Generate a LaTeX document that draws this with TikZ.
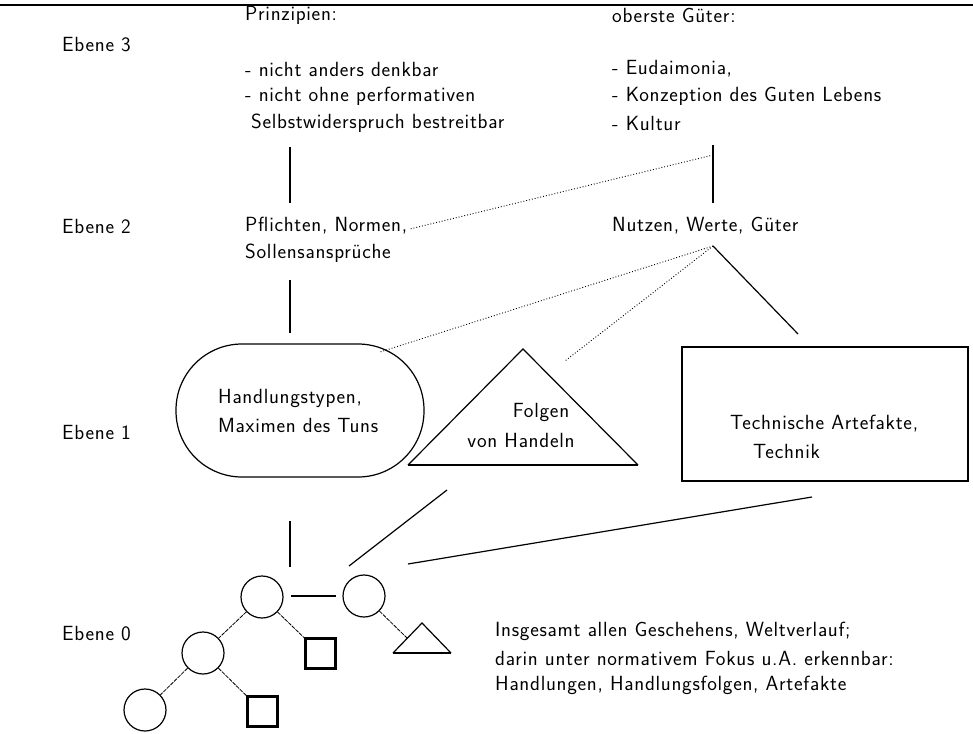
\documentclass[tikz,border=0pt]{standalone}
\usepackage{fontspec}
\setsansfont{Latin Modern Sans}[LetterSpace=3.5]
\usetikzlibrary{shapes.geometric}
\begin{document}
\begin{tikzpicture}[x=1pt,y=-1pt,
  txt/.style={anchor=west,inner sep=0pt,font=\sffamily\fontsize{20.5}{27}\selectfont},
  ctxt/.style={anchor=center,inner sep=0pt,font=\sffamily\fontsize{20.5}{27}\selectfont},
  thickline/.style={line width=2.2pt},
  thinline/.style={line width=1.2pt},
  dotline/.style={line width=0.9pt,dotted},
  treeline/.style={line width=0.8pt,dash pattern=on 4pt off 1pt},
  circ/.style={circle,draw,line width=1.2pt,minimum size=42pt,inner sep=0pt},
  sq/.style={rectangle,draw,line width=2.2pt,minimum size=30pt,inner sep=0pt}]
\useasboundingbox (0,0) rectangle (973,733);
\coordinate (tl) at (0,5); \coordinate (tr) at (973,5);
\draw[line width=2pt] (tl) -- (tr);
% labels
\node[txt] (e3) at (62,45) {Ebene 3};
\node[txt] (e2) at (62,226) {Ebene 2};
\node[txt] (e1) at (62,432) {Ebene 1};
\node[txt] (e0) at (62,634) {Ebene 0};
% level 3
\node[txt] (p0) at (245,15) {Prinzipien:};
\node[txt] (p1) at (245,69) {- nicht anders denkbar};
\node[txt] (p2) at (245,96) {- nicht ohne performativen};
\node[txt] (p3) at (251,123) {Selbstwiderspruch bestreitbar};
\node[txt] (g0) at (612,15) {oberste Güter:};
\node[txt] (g1) at (612,69) {- Eudaimonia,};
\node[txt] (g2) at (612,96) {- Konzeption des Guten Lebens};
\node[txt] (g3) at (612,123) {- Kultur};
% level 2
\node[txt] (n1) at (245,226) {Pflichten, Normen,};
\node[txt] (n2) at (245,253) {Sollensansprüche};
\node[txt] (w1) at (612,226) {Nutzen, Werte, Güter};
% vertical links
\coordinate (a1) at (290,147); \coordinate (a2) at (290,203);
\coordinate (b1) at (713,145); \coordinate (b2) at (713,203);
\coordinate (a3) at (290,280); \coordinate (a4) at (290,333);
\coordinate (a5) at (290,521); \coordinate (a6) at (290,567);
\draw[thickline] (a1) -- (a2);
\draw[thickline] (b1) -- (b2);
\draw[thickline] (a3) -- (a4);
\draw[thickline] (a5) -- (a6);
% dotted
\coordinate (d0) at (713,155); \coordinate (d1) at (410,229);
\draw[dotline] (d0) -- (d1);
\coordinate (w0) at (713,246);
\coordinate (d2) at (380,352); \coordinate (d3) at (565,361);
\coordinate (s1) at (798,334);
\draw[dotline] (w0) -- (d2);
\draw[dotline] (w0) -- (d3);
\draw[thinline] (w0) -- (s1);
% level 1 shapes
\draw[line width=1.2pt,rounded corners=66pt] (176,344) rectangle (424,477);
\node[txt] (h1) at (218,398) {Handlungstypen,};
\node[txt] (h2) at (218,425) {Maximen des Tuns};
\coordinate (t1) at (523,349); \coordinate (t2) at (638,465); \coordinate (t3) at (408,465);
\draw[thinline] (t3) -- (t1) -- (t2);
\draw[thickline] (t3) -- (t2);
\node[ctxt] (f1) at (541,412) {Folgen};
\node[ctxt] (f2) at (521,440) {von Handeln};
\draw[line width=2.2pt] (682,347) rectangle (968,481);
\node[txt] (k1) at (730,424) {Technische Artefakte,};
\node[txt] (k2) at (753,451) {Technik};
% level 0
\coordinate (l1a) at (447,490); \coordinate (l1b) at (349,566);
\coordinate (l2a) at (812,497); \coordinate (l2b) at (408,564);
\draw[thinline] (l1a) -- (l1b);
\draw[thinline] (l2a) -- (l2b);
\node[circ] (c1) at (262,597) {};
\node[circ] (c2) at (364,596) {};
\node[circ] (c3) at (203,653) {};
\node[circ] (c4) at (145,710) {};
\node[sq] (q1) at (320.5,653.5) {};
\node[sq] (q2) at (262.5,711.5) {};
\coordinate (m1) at (291,596); \coordinate (m2) at (336,596);
\draw[thickline] (m1) -- (m2);
\coordinate (u1) at (422,623); \coordinate (u2) at (451,653); \coordinate (u3) at (393,653);
\draw[thinline] (u3) -- (u1) -- (u2);
\draw[thickline] (u3) -- (u2);
\draw[treeline] (c1) -- (c3);
\draw[treeline] (c1) -- (q1);
\draw[treeline] (c3) -- (c4);
\draw[treeline] (c3) -- (q2);
\coordinate (u4) at (407,638);
\draw[treeline] (c2) -- (u4);
\node[txt] (i1) at (495,631) {Insgesamt allen Geschehens, Weltverlauf;};
\node[txt] (i2) at (495,658) {darin unter normativem Fokus u.A. erkennbar:};
\node[txt] (i3) at (495,685) {Handlungen, Handlungsfolgen, Artefakte};
\end{tikzpicture}
\end{document}
